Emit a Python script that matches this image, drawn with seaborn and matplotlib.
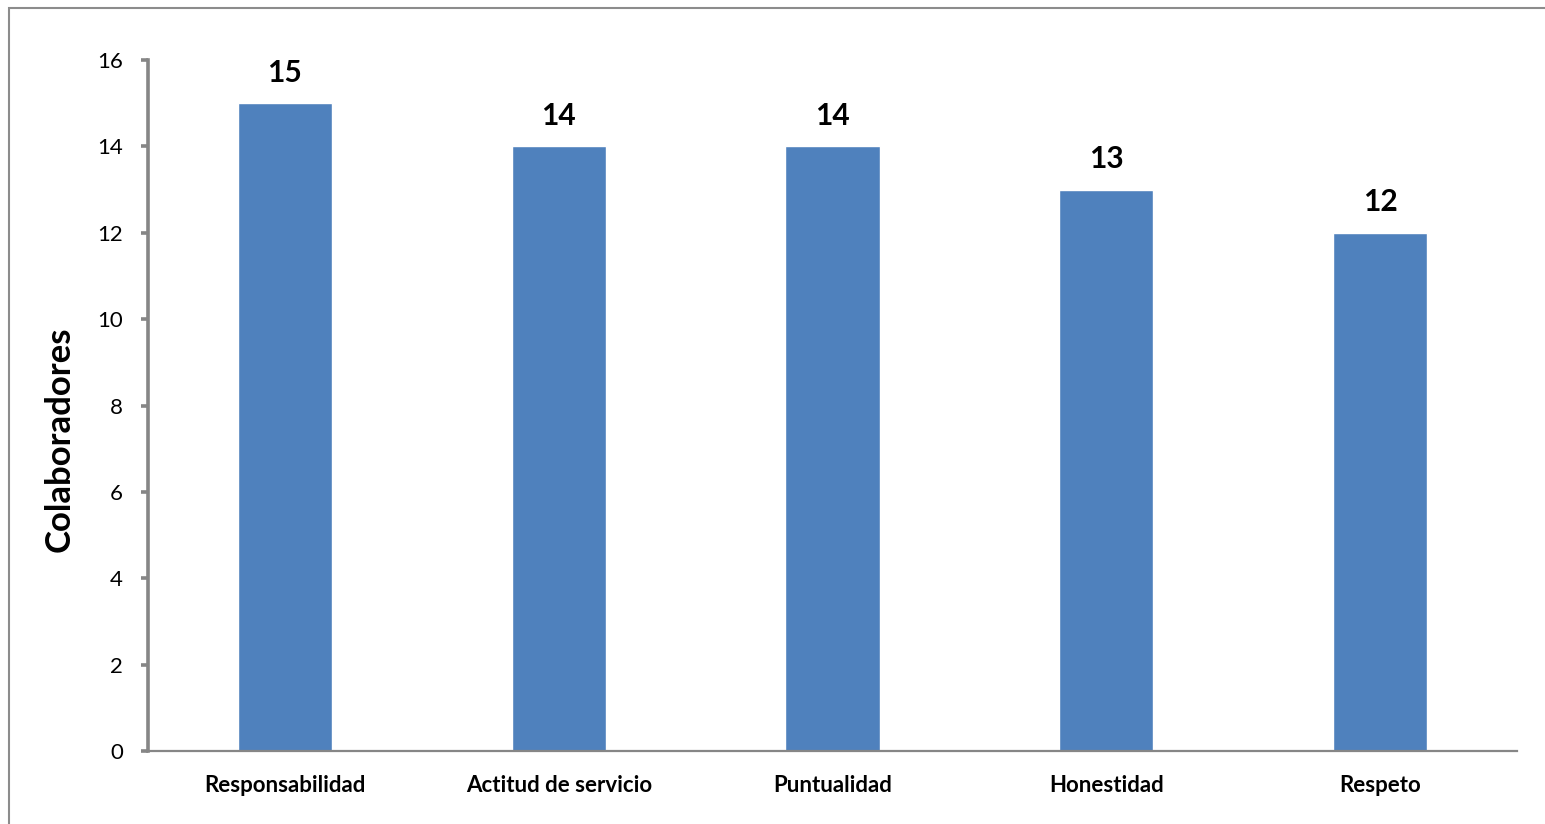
import matplotlib
matplotlib.use("Agg")
import matplotlib.pyplot as plt
import seaborn as sns
import pandas as pd
from matplotlib.patches import Rectangle

categorias = ["Responsabilidad", "Actitud de servicio", "Puntualidad", "Honestidad", "Respeto"]
colaboradores = [15, 14, 14, 13, 12]
y_ticks = [0, 2, 4, 6, 8, 10, 12, 14, 16]

sns.set_theme(style="white")
plt.rcParams["font.family"] = ["Lato", "DejaVu Sans"]

df = pd.DataFrame({"valor": categorias, "colaboradores": colaboradores})

W, H = 1545, 824
fig = plt.figure(figsize=(W / 100, H / 100), dpi=100)
ax = fig.add_axes([148 / W, 1 - 751 / H, (1517 - 148) / W, (751 - 60) / H])

sns.barplot(data=df, x="valor", y="colaboradores", color="#4F81BD",
            width=0.344, saturation=1, ax=ax)

ax.set_xlim(-0.5, 4.5)
ax.set_ylim(0, 16)
ax.set_yticks(y_ticks)
ax.set_yticklabels([str(t) for t in y_ticks], fontsize=16, color="black")
ax.set_xticks(range(len(categorias)))
ax.set_xticklabels(categorias, fontsize=16, fontweight="bold", color="black")
ax.set_xlabel("")
ax.set_ylabel("Colaboradores", fontsize=25, fontweight="bold", color="black")
ax.yaxis.set_label_coords(-0.053, 0.451)

for s in ["top", "right"]:
    ax.spines[s].set_visible(False)
ax.spines["left"].set_color("#868686")
ax.spines["left"].set_linewidth(2.6)
ax.spines["bottom"].set_color("#868686")
ax.spines["bottom"].set_linewidth(1.6)

ax.tick_params(axis="y", which="major", left=True, length=5, width=2.6,
               color="#868686", pad=13, direction="out")
ax.tick_params(axis="x", which="major", bottom=False, pad=11)

for p, v in zip(ax.patches, colaboradores):
    ax.annotate(str(v), (p.get_x() + p.get_width() / 2, v),
                xytext=(0, 12), textcoords="offset points",
                ha="center", va="bottom", fontsize=21.5, fontweight="bold", color="black")

# Outer chart frame
fig.patches.append(Rectangle((9 / W, -0.1), 1.2, 1 - 8 / H + 0.1,
                             transform=fig.transFigure, fill=False,
                             edgecolor="#8c8c8c", linewidth=1.5, zorder=0))

fig.savefig("out.png", dpi=100)
